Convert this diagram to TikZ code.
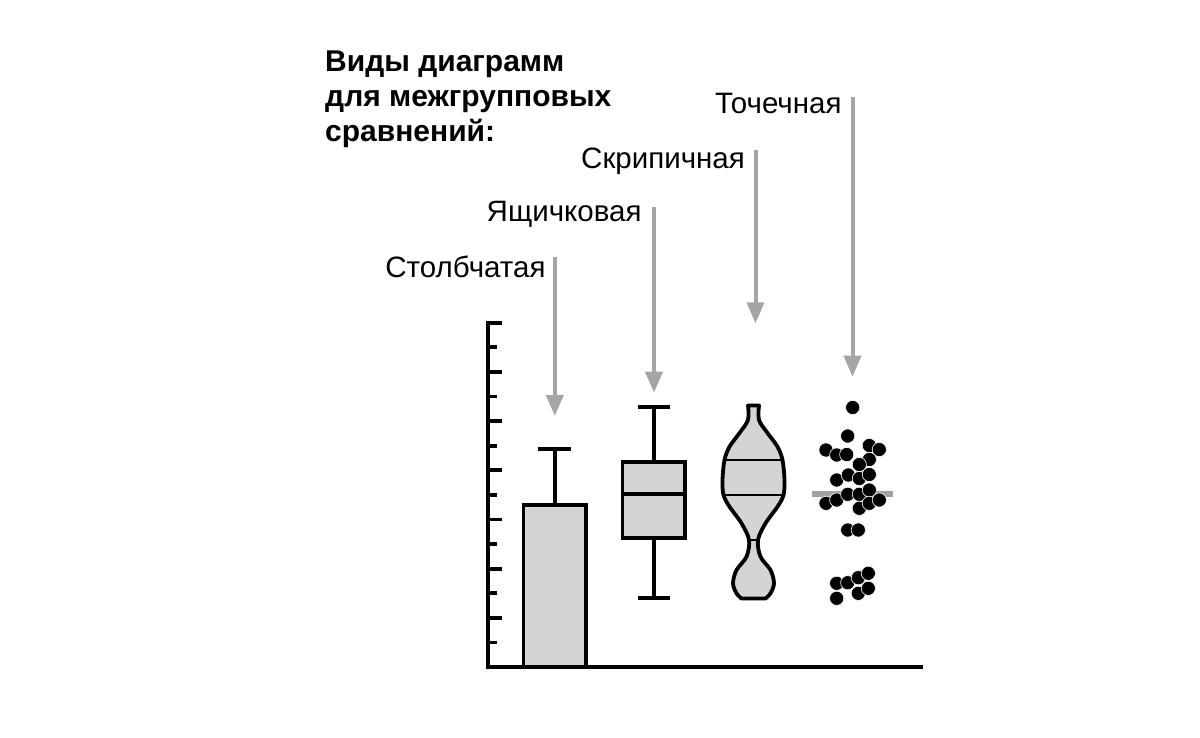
\documentclass[tikz,border=0pt]{standalone}
\usepackage{fontspec}
\setmainfont{Liberation Sans}
\usetikzlibrary{arrows.meta}
\definecolor{arrowgray}{HTML}{A5A5A7}
\definecolor{fillgray}{HTML}{D4D4D4}
\definecolor{medgray}{HTML}{A0A0A0}
\tikzset{
  lbl/.style={anchor=base east, font=\fontsize{29.5}{34}\selectfont, inner sep=0pt},
  pointer/.style={draw=arrowgray, line width=4pt, -{Triangle[length=21pt,width=17pt]}},
  outl/.style={draw=black, line width=3.8pt, fill=fillgray},
  blk/.style={draw=black, line width=3.8pt},
  innerline/.style={draw=black, line width=2pt},
  blackdot/.style={fill=black, draw=white, line width=0.6pt},
}
\newcommand\violinshape{(748,405.5) -- plot[smooth, tension=0.55] coordinates {(759,405.5) (759,420) (767.5,433) (777.5,446.7) (782.5,460) (784.5,480) (783.5,495) (777.5,506.7) (765.5,523.3) (758,540) (760.5,556.7) (770.5,570) (774,583.3) (770.5,593.3) (765.5,598.5)} -- plot[smooth, tension=0.55] coordinates {(741.5,598.5) (736.5,593.3) (733,583.3) (736.5,570) (746.5,556.7) (749,540) (741.5,523.3) (729.5,506.7) (723.5,495) (722.5,480) (724.5,460) (729.5,446.7) (739.5,433) (748,420) (748,405.5)} -- cycle}
\begin{document}
\begin{tikzpicture}[x=1pt, y=-1pt]
\useasboundingbox (0,0) rectangle (1200,737);

% title
\node[anchor=north west, align=left, font=\bfseries\fontsize{30}{35}\selectfont, inner sep=0pt] (title) at (325,51) {Виды диаграмм\\для межгрупповых\\сравнений:};

% labels
\node[lbl] (l1) at (545.7,277.3) {Столбчатая};
\node[lbl] (l2) at (641.7,221.7) {Ящичковая};
\node[lbl] (l3) at (745,168.3) {Скрипичная};
\node[lbl] (l4) at (841.7,113.3) {Точечная};

% arrows
\coordinate (a1s) at (554.8,257);
\coordinate (a1e) at (554.8,416);
\coordinate (a2s) at (654,207);
\coordinate (a2e) at (654,392.7);
\coordinate (a3s) at (755.5,150);
\coordinate (a3e) at (755.5,323.3);
\coordinate (a4s) at (852.5,97);
\coordinate (a4e) at (852.5,376.7);
\draw[pointer] (a1s) -- (a1e);
\draw[pointer] (a2s) -- (a2e);
\draw[pointer] (a3s) -- (a3e);
\draw[pointer] (a4s) -- (a4e);

% bar chart
\draw[blk] (554.6,505) -- (554.6,449.3);
\draw[blk] (538,449.3) -- (570.5,449.3);
\draw[outl] (523.5,667) -- (523.5,505) -- (585.8,505) -- (585.8,667);

% box plot
\draw[blk] (653.7,461.7) -- (653.7,406.7);
\draw[blk] (653.7,538.3) -- (653.7,598);
\draw[blk] (637.7,406.7) -- (669.7,406.7);
\draw[blk] (637.7,598) -- (669.7,598);
\draw[outl] (622.5,461.7) rectangle (685,538.3);
\draw[blk] (622.5,494) -- (685,494);

% violin plot
\fill[fillgray] \violinshape;
\begin{scope}
  \clip \violinshape;
  \draw[innerline] (715,459.5) -- (795,459.5);
  \draw[innerline] (715,494.5) -- (795,494.5);
  \draw[innerline] (740,540) -- (770,540);
\end{scope}
\draw[draw=black, line width=3.8pt, line join=round] \violinshape;

% dot plot
\draw[medgray, line width=6pt] (811.7,494.3) -- (893.3,494.3);
\foreach \px/\py in {852.7/407.5, 847.7/436, 826/450, 836.7/455, 846.7/454.5, 869.3/445.5, 879.3/449.5, 869.3/459.5, 859.3/464.5, 836.7/480, 848.3/475, 859.3/478.5, 869.3/474.5, 826/503.3, 836.7/500, 847.7/494.3, 859.3/494.3, 869.3/490, 859.3/508.3, 869.3/503.3, 879.3/500, 847.7/530, 858.3/530, 836.7/583.3, 847.7/582.7, 858.3/577.7, 868.3/573.3, 836.7/598.3, 858.3/593.3, 868.3/588.3}
  \filldraw[blackdot] (\px,\py) circle[radius=7.1];

% axes
\draw[blk, line cap=rect] (488,322.7) -- (488,667) -- (921,667);
\foreach \i in {0,...,13} {
  \pgfmathsetmacro\ty{322.7+24.6*\i}
  \pgfmathsetmacro\tl{ifthenelse(mod(\i,2)==0,502,496.5)}
  \draw[blk] (488,\ty) -- (\tl,\ty);
}
\end{tikzpicture}
\end{document}
